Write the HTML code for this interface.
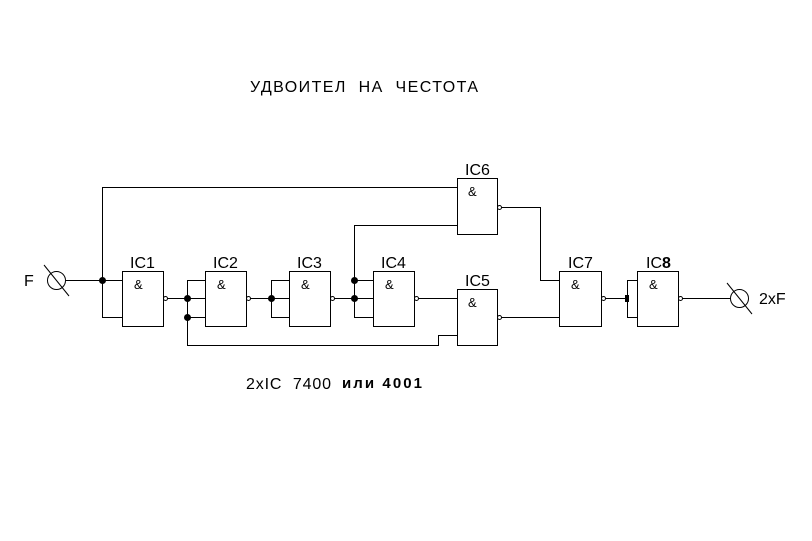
<!DOCTYPE html>
<html><head><meta charset="utf-8"><style>
html,body{margin:0;padding:0;background:#fff;width:812px;height:541px;overflow:hidden}
text{font-family:"Liberation Sans","DejaVu Sans",sans-serif;fill:#000;white-space:pre}
</style></head><body>
<svg width="812" height="541" viewBox="0 0 812 541" xmlns="http://www.w3.org/2000/svg">
<g stroke="#000" stroke-width="1" fill="none" shape-rendering="crispEdges">
<rect x="122.5" y="271.5" width="41" height="55"/>
<rect x="205.5" y="271.5" width="41" height="55"/>
<rect x="289.5" y="271.5" width="41" height="55"/>
<rect x="373.5" y="271.5" width="41" height="55"/>
<rect x="457.5" y="178.5" width="40" height="56"/>
<rect x="457.5" y="289.5" width="40" height="56"/>
<rect x="559.5" y="271.5" width="42" height="55"/>
<rect x="637.5" y="271.5" width="41" height="55"/>
<polyline points="66,280.5 122,280.5"/>
<polyline points="457,187.5 102.5,187.5 102.5,317.5 122,317.5"/>
<polyline points="167,298.5 205,298.5"/>
<polyline points="205,280.5 187.5,280.5 187.5,345.5 438.5,345.5 438.5,335.5 457,335.5"/>
<polyline points="187,317.5 205,317.5"/>
<polyline points="250,298.5 289,298.5"/>
<polyline points="289,280.5 271.5,280.5 271.5,317.5 289,317.5"/>
<polyline points="334,298.5 373,298.5"/>
<polyline points="457,225.5 354.5,225.5 354.5,317.5 373,317.5"/>
<polyline points="354,280.5 373,280.5"/>
<polyline points="418,298.5 457,298.5"/>
<polyline points="501,207.5 540.5,207.5 540.5,280.5 559,280.5"/>
<polyline points="501,317.5 559,317.5"/>
<polyline points="605,298.5 627,298.5"/>
<polyline points="637,280.5 627.5,280.5 627.5,317.5 637,317.5"/>
<polyline points="682,298.5 730,298.5"/>
</g>
<g stroke="#000" stroke-width="1" fill="#fff">
<circle cx="165.5" cy="298.5" r="2"/>
<circle cx="248.5" cy="298.5" r="2"/>
<circle cx="332.5" cy="298.5" r="2"/>
<circle cx="416.5" cy="298.5" r="2"/>
<circle cx="499.5" cy="207.5" r="2"/>
<circle cx="499.5" cy="317.5" r="2"/>
<circle cx="603.5" cy="298.5" r="2"/>
<circle cx="680.5" cy="298.5" r="2"/>
<circle cx="56.5" cy="280.5" r="9"/>
<circle cx="739.5" cy="298.5" r="9"/>
<line x1="44" y1="265" x2="69" y2="296"/>
<line x1="727" y1="283" x2="752" y2="314"/>
</g>
<g fill="#000">
<circle cx="102.5" cy="280.5" r="3.5"/>
<circle cx="187.5" cy="298.5" r="3.5"/>
<circle cx="187.5" cy="317.5" r="3.5"/>
<circle cx="271.5" cy="298.5" r="3.5"/>
<circle cx="354.5" cy="280.5" r="3.5"/>
<circle cx="354.5" cy="298.5" r="3.5"/>
<rect x="625" y="295" width="4" height="7"/>
</g>
<text x="250" y="92" font-size="16" textLength="228" lengthAdjust="spacing">УДВОИТЕЛ  НА  ЧЕСТОТА</text>
<text x="24" y="286" font-size="16">F</text>
<text x="759" y="304" font-size="16">2xF</text>
<g font-size="16">
<text x="130" y="268">IC1</text>
<text x="213" y="268">IC2</text>
<text x="297" y="268">IC3</text>
<text x="381" y="268">IC4</text>
<text x="465" y="175">IC6</text>
<text x="465" y="286">IC5</text>
<text x="568" y="268">IC7</text>
<text x="646" y="268">IC<tspan font-weight="bold">8</tspan></text>
</g>
<g font-size="13">
<text x="134" y="289">&amp;</text>
<text x="217" y="289">&amp;</text>
<text x="301" y="289">&amp;</text>
<text x="385" y="289">&amp;</text>
<text x="468" y="196">&amp;</text>
<text x="468" y="307">&amp;</text>
<text x="571" y="289">&amp;</text>
<text x="649" y="289">&amp;</text>
</g>
<text x="246" y="389" font-size="16" textLength="85" lengthAdjust="spacing">2xIC  7400</text>
<text x="342" y="388" font-size="15" font-weight="bold" textLength="80" lengthAdjust="spacing">или 4001</text>
</svg>
</body></html>
